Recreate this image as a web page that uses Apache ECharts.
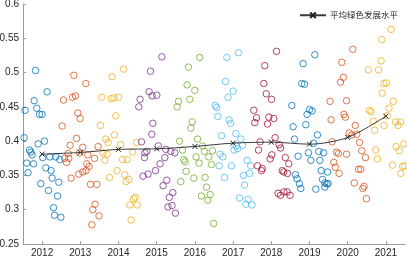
<!DOCTYPE html>
<html>
<head>
<meta charset="utf-8">
<script src="https://cdn.jsdelivr.net/npm/echarts@6/dist/echarts.min.js"></script>
<style>html,body{margin:0;padding:0;background:#fff}#c{width:407px;height:260px}</style>
</head>
<body>
<div id="c"></div>
<script>
const years = [2012, 2013, 2014, 2015, 2016, 2017, 2018, 2019, 2020, 2021];
const legendName = '平均绿色发展水平';
const meanValues = [0.381, 0.3835, 0.388, 0.3888, 0.3923, 0.3971, 0.3985, 0.3956, 0.4054, 0.4364];
const yTicks = [0.25, 0.3, 0.35, 0.4, 0.45, 0.5, 0.55, 0.6];

// [jitter offset from year, value]
const p2012 = [[-0.173,0.503],[0.131,0.472],[-0.209,0.459],[-0.445,0.445],[-0.139,0.448],[-0.068,0.439],[0,0.439],[-0.471,0.405],[0.063,0.400],[-0.105,0.396],[-0.330,0.387],[-0.296,0.384],[-0.262,0.380],[0.018,0.376],[0.202,0.377],[0.359,0.377],[0.463,0.373],[-0.401,0.368],[-0.225,0.367],[0.097,0.361],[0.236,0.357],[-0.367,0.354],[0.262,0.346],[0.437,0.340],[-0.034,0.338],[0.168,0.328],[0.403,0.320],[0.298,0.303],[0.325,0.292],[0.49,0.289]];
const p2013 = [[-0.170,0.496],[0.144,0.484],[-0.440,0.460],[-0.204,0.464],[-0.126,0.466],[-0.065,0.441],[-0.005,0.433],[-0.476,0.422],[-0.099,0.404],[-0.267,0.394],[0.065,0.391],[0.466,0.392],[-0.319,0.382],[-0.021,0.383],[0.196,0.380],[-0.414,0.375],[-0.301,0.375],[-0.361,0.369],[0.372,0.375],[0.170,0.367],[0.230,0.363],[0.152,0.357],[0.065,0.355],[-0.039,0.352],[-0.241,0.346],[0.267,0.337],[0.432,0.337],[0.387,0.308],[0.327,0.300],[0.49,0.291],[0.301,0.278]];
const p2014 = [[0.131,0.505],[-0.168,0.494],[-0.437,0.464],[-0.194,0.462],[-0.123,0.463],[0,0.464],[-0.071,0.437],[-0.471,0.423],[-0.105,0.409],[-0.332,0.403],[-0.272,0.398],[0.060,0.395],[0.471,0.398],[-0.403,0.383],[-0.298,0.381],[0.367,0.384],[-0.359,0.372],[0.105,0.373],[0.225,0.373],[-0.037,0.357],[-0.236,0.347],[0.165,0.351],[0.270,0.344],[0.199,0.341],[0.445,0.318],[0.393,0.316],[0.296,0.307],[0.487,0.307],[0.330,0.285]];
const p2015 = [[0.134,0.523],[-0.162,0.502],[-0.199,0.472],[-0.120,0.466],[0.003,0.467],[-0.435,0.461],[-0.469,0.450],[-0.102,0.426],[-0.128,0.410],[-0.398,0.399],[0.042,0.393],[-0.312,0.383],[-0.259,0.385],[-0.319,0.376],[0.238,0.388],[0.369,0.385],[0.474,0.383],[0.212,0.376],[0.089,0.367],[-0.031,0.357],[-0.356,0.349],[-0.225,0.352],[0.264,0.343],[0.168,0.335],[0.422,0.325],[0.330,0.318],[0.401,0.306],[0.296,0.304],[0.49,0.295]];
const p2016 = [[0.128,0.522],[-0.168,0.508],[-0.204,0.482],[-0.003,0.474],[-0.429,0.458],[-0.134,0.461],[-0.466,0.450],[-0.073,0.428],[-0.107,0.419],[-0.403,0.400],[0.068,0.403],[-0.325,0.387],[0.199,0.393],[0.251,0.385],[0.461,0.386],[-0.291,0.373],[-0.257,0.370],[0.031,0.377],[0.364,0.377],[0.110,0.368],[0.435,0.366],[-0.230,0.356],[-0.029,0.346],[0.267,0.347],[-0.369,0.341],[0.304,0.333],[0.173,0.320],[0.398,0.322],[0.338,0.314],[0.49,0.280]];
const p2017 = [[0.141,0.529],[-0.165,0.522],[-0.199,0.487],[0,0.473],[-0.131,0.464],[-0.466,0.452],[-0.432,0.449],[-0.401,0.436],[-0.105,0.431],[-0.068,0.426],[-0.304,0.408],[0.071,0.411],[0.202,0.403],[0.079,0.393],[0.246,0.394],[0.026,0.387],[0.123,0.389],[-0.340,0.381],[-0.270,0.377],[0.367,0.372],[-0.367,0.364],[-0.042,0.364],[0.463,0.364],[0.272,0.350],[0.429,0.353],[-0.225,0.347],[0.298,0.336],[0.168,0.317],[0.393,0.315],[0.332,0.308],[0.49,0.307]];
const p2018 = [[0.136,0.531],[-0.170,0.510],[-0.196,0.484],[-0.131,0.469],[0.005,0.461],[-0.458,0.445],[-0.387,0.434],[-0.432,0.427],[-0.065,0.435],[0.065,0.433],[-0.099,0.425],[0.099,0.405],[-0.293,0.399],[-0.335,0.387],[0.204,0.395],[0.241,0.390],[0.013,0.380],[-0.031,0.374],[0.367,0.376],[0.458,0.367],[-0.361,0.364],[-0.236,0.360],[-0.257,0.357],[0.288,0.357],[0.327,0.355],[0.424,0.353],[0.178,0.324],[0.241,0.321],[0.327,0.326],[0.414,0.326],[0.49,0.321]];
const p2019 = [[0.139,0.526],[-0.168,0.513],[-0.202,0.484],[-0.131,0.483],[-0.463,0.452],[0,0.446],[0.068,0.444],[-0.063,0.439],[-0.429,0.421],[-0.097,0.424],[0.209,0.409],[-0.393,0.403],[0.105,0.397],[-0.298,0.378],[-0.026,0.383],[0.243,0.385],[0.367,0.383],[0.034,0.372],[0.270,0.372],[0.304,0.357],[0.471,0.355],[-0.367,0.351],[-0.325,0.345],[0.340,0.344],[-0.262,0.338],[-0.228,0.331],[0.401,0.339],[0.453,0.338],[0.49,0.338],[0.401,0.333],[0.165,0.330]];
const p2020 = [[0.134,0.534],[-0.154,0.515],[-0.115,0.493],[-0.188,0.486],[-0.461,0.458],[-0.031,0.459],[-0.097,0.439],[-0.063,0.435],[-0.435,0.431],[0.199,0.423],[0.037,0.412],[0.107,0.409],[0.238,0.410],[-0.408,0.399],[0.309,0.398],[-0.293,0.384],[-0.241,0.382],[-0.031,0.381],[0.369,0.386],[0.466,0.376],[-0.364,0.369],[-0.325,0.362],[-0.225,0.353],[0.283,0.359],[0.343,0.359],[0.173,0.339],[0.429,0.334],[0.395,0.331],[0.49,0.316]];
const p2021 = [[0.136,0.563],[-0.107,0.548],[-0.126,0.517],[-0.461,0.504],[-0.194,0.504],[-0.055,0.484],[0.010,0.485],[-0.099,0.470],[0.194,0.458],[-0.435,0.445],[-0.387,0.443],[0.081,0.448],[0.037,0.437],[-0.330,0.429],[-0.298,0.416],[-0.047,0.423],[0.251,0.428],[0.382,0.428],[0.319,0.423],[0.469,0.396],[0.267,0.392],[0.346,0.386],[-0.264,0.387],[-0.220,0.374],[0.173,0.365],[0.435,0.363],[0.390,0.353],[0.49,0.364]];

const pointSets = [p2012, p2013, p2014, p2015, p2016, p2017, p2018, p2019, p2020, p2021];
const palette = ['#0072BD', '#D95319', '#EDB120', '#7E2F8E', '#77AC30', '#4DBEEE', '#A2142F'];

const scatterSeries = pointSets.map((pts, i) => ({
  type: 'scatter',
  name: String(years[i]),
  data: pts.map(p => [years[i] + p[0], p[1]]),
  symbol: 'circle',
  symbolSize: 6.5,
  itemStyle: { color: 'rgba(0,0,0,0)', borderColor: palette[i % palette.length], borderWidth: 1, opacity: 0.8 },
  emphasis: { disabled: true },
  z: 2
}));

const lineSeries = {
  type: 'line',
  name: legendName,
  data: years.map((y, i) => [y, meanValues[i]]),
  smooth: 0.3,
  symbol: 'path://M0,0L10,10M10,0L0,10',
  symbolSize: 5,
  showSymbol: true,
  lineStyle: { color: '#3a3a3a', width: 1 },
  itemStyle: { color: 'rgba(0,0,0,0)', borderColor: '#222', borderWidth: 1 },
  emphasis: { disabled: true },
  z: 5
};

const chart = echarts.init(document.getElementById('c'), null, { renderer: 'canvas' });
chart.setOption({
  animation: false,
  backgroundColor: '#fff',
  textStyle: { fontFamily: 'Liberation Sans, Arial, sans-serif' },
  grid: { left: 23, right: 2, top: 4, bottom: 16, containLabel: false, outerBoundsMode: 'none' },
  legend: {
    data: [legendName],
    left: 299, top: 11,
    itemWidth: 26, itemHeight: 7,
    itemGap: 5,
    textStyle: { fontFamily: 'Noto Sans CJK SC', fontSize: 8.5, color: '#262626', padding: [0, 0, 0, -1] },
    padding: 0
  },
  xAxis: {
    type: 'value', min: 2011.5, max: 2021.5,
    axisLine: { show: true, lineStyle: { color: '#9a9a9a', width: 1 } },
    axisTick: { show: true, inside: true, length: 3, customValues: years, lineStyle: { color: '#9a9a9a' } },
    axisLabel: { customValues: years, fontSize: 10, color: '#262626', margin: 4, fontFamily: 'Liberation Sans', formatter: v => String(Math.round(v)) },
    splitLine: { show: false }
  },
  yAxis: {
    type: 'value', min: 0.25, max: 0.6, interval: 0.05,
    axisLine: { show: true, lineStyle: { color: '#9a9a9a', width: 1 } },
    axisTick: { show: true, inside: true, length: 3, lineStyle: { color: '#9a9a9a' } },
    axisLabel: { fontSize: 10, color: '#262626', margin: 4, fontFamily: 'Liberation Sans', formatter: v => String(+v.toFixed(2)) },
    splitLine: { show: false }
  },
  series: [...scatterSeries, lineSeries]
});
</script>
</body>
</html>
